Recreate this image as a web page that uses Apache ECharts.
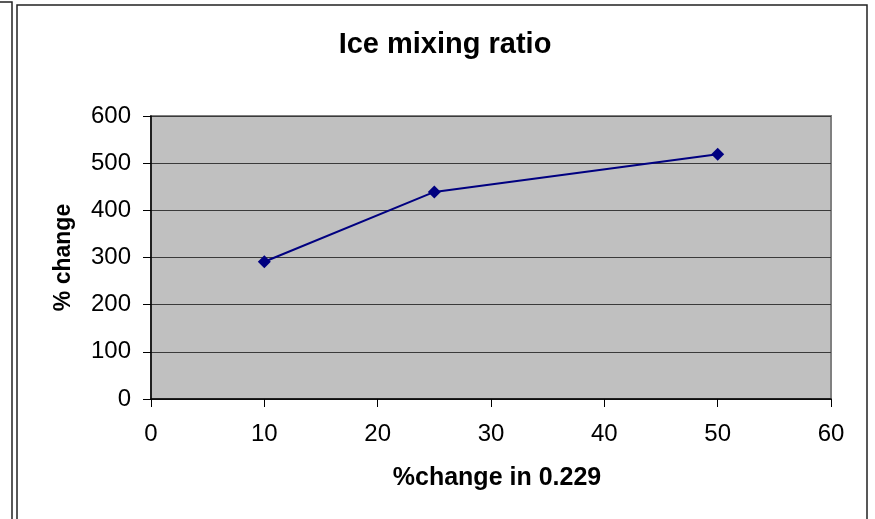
<!DOCTYPE html>
<html>
<head>
<meta charset="utf-8">
<script src="https://cdn.jsdelivr.net/npm/echarts@6/dist/echarts.min.js"></script>
<style>
html,body{margin:0;padding:0;background:#fff;}
#chart{width:875px;height:519px;}
</style>
</head>
<body>
<div id="chart"></div>
<script>
const chartTitle = "Ice mixing ratio";
const xAxisName = "%change in 0.229";
const yAxisName = "% change";
const xValues = [10, 25, 50];
const yValues = [291, 439, 519];

const seriesData = xValues.map((x, i) => [x, yValues[i]]);
const FONT = '"Liberation Sans", Arial, sans-serif';

const chart = echarts.init(document.getElementById('chart'), null, {renderer: 'canvas'});
chart.setOption({
  backgroundColor: '#ffffff',
  animation: false,
  title: {
    text: chartTitle,
    left: 440, top: 25, textAlign: 'center',
    textStyle: {fontFamily: FONT, fontSize: 29, fontWeight: 'bold', color: '#000'}
  },
  graphic: [
    {type: 'rect', shape: {x: 17, y: 5, width: 850, height: 530}, style: {fill: 'none', stroke: '#222', lineWidth: 1.5}, silent: true, z: -1},
    {type: 'polyline', shape: {points: [[0, 2], [12, 2], [12, 519]]}, style: {fill: 'none', stroke: '#222', lineWidth: 1.5}, silent: true}
  ],
  grid: {
    left: 151, top: 116, right: 44, bottom: 120,
    show: true, backgroundColor: '#c0c0c0', borderColor: '#808080', borderWidth: 2
  },
  xAxis: {
    type: 'value', min: 0, max: 60, interval: 10,
    name: xAxisName, nameLocation: 'middle', nameGap: 67,
    nameTextStyle: {fontFamily: FONT, fontSize: 25, fontWeight: 'bold', color: '#000', padding: [0, 0, 0, 12]},
    axisLine: {show: true, onZero: false, lineStyle: {color: '#000', width: 1.5}},
    axisTick: {show: true, length: 8, lineStyle: {color: '#000', width: 1}},
    axisLabel: {fontFamily: FONT, fontSize: 24, color: '#000', margin: 23},
    splitLine: {show: false}
  },
  yAxis: {
    type: 'value', min: 0, max: 600, interval: 100,
    name: yAxisName, nameLocation: 'middle', nameGap: 76, nameRotate: 90,
    nameTextStyle: {fontFamily: FONT, fontSize: 23, fontWeight: 'bold', color: '#000'},
    axisLine: {show: true, onZero: false, lineStyle: {color: '#000', width: 1.5}},
    axisTick: {show: true, length: 8, lineStyle: {color: '#000', width: 1}},
    axisLabel: {fontFamily: FONT, fontSize: 24, color: '#000', margin: 20},
    splitLine: {show: true, lineStyle: {color: '#3a3a3a', width: 1}}
  },
  series: [{
    type: 'line',
    data: seriesData,
    symbol: 'diamond', symbolSize: 13,
    lineStyle: {color: '#000080', width: 2},
    itemStyle: {color: '#000080'}
  }]
});
</script>
</body>
</html>
